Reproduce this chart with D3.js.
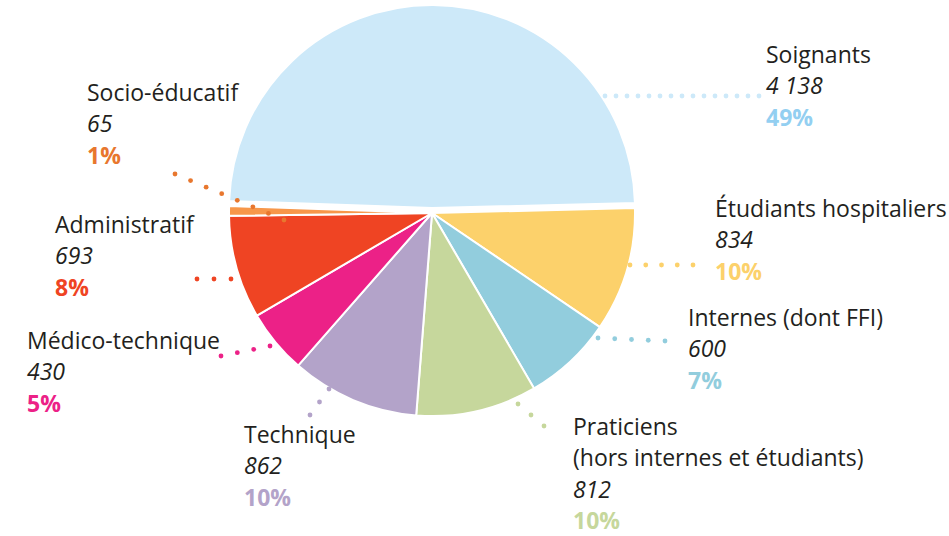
<!DOCTYPE html>
<html>
<head>
<meta charset="utf-8">
<script src="https://cdn.jsdelivr.net/npm/d3@7"></script>
<style>
  body { margin: 0; background: #fff; }
  #chart text { font-family: "Open Sans", sans-serif; font-size: 23px; fill: #231f20; }
  #chart .val { font-style: italic; }
  #chart .pct { font-weight: bold; }
</style>
</head>
<body>
<div id="chart"></div>
<script>
// categories, clockwise from the top-left
const categories = ['Soignants', 'Étudiants hospitaliers', 'Internes', 'Praticiens',
    'Technique', 'Médico-technique', 'Administratif', 'Socio-éducatif'];
const subtitles = ['', '', '', '(hors internes et étudiants)', '', '', '', ''];
const nameSuffix = ['', '', ' (dont FFI)', '', '', '', '', ''];
const values = [4138, 834, 600, 812, 862, 430, 693, 65];
const sliceColors = ['#cde9f9', '#fcd16b', '#92cddd', '#c6d79c', '#b3a3c9', '#ec2187', '#ef4423', '#f7974a'];
const accentColors = ['#93cff1', '#fcd16b', '#92cddd', '#c6d79c', '#b3a3c9', '#ec2187', '#ef4423', '#e8772e'];

// label layout: text anchor and leader dots (x1, y1, x2, y2, count)
const labelPos = [
    {x: 766, y: 63, lead: [605, 96, 759, 96, 15]},
    {x: 715, y: 217, lead: [630, 265, 693, 265, 5]},
    {x: 688, y: 326, lead: [598, 338, 665, 341, 5]},
    {x: 573, y: 435, lead: [518, 404, 544, 426, 3]},
    {x: 244, y: 443, lead: [329, 389, 310, 415, 3]},
    {x: 27, y: 349, lead: [270, 346, 221, 356, 4]},
    {x: 55, y: 233, lead: [231, 279, 197, 279, 3]},
    {x: 87, y: 101, lead: [284, 220, 175, 174, 8]}
];

const width = 949, height = 536;
const cx = 432, cy = 213, radius = 203;
const lineGap = 31.4;

const svg = d3.select('#chart').append('svg')
    .attr('width', width)
    .attr('height', height);

const total = d3.sum(values);
const data = categories.map((c, i) => ({name: c, value: values[i], i: i}));

// the first slice ends just above 3 o'clock
const firstEnd = 88.6 * Math.PI / 180;
const start = firstEnd - values[0] / total * 2 * Math.PI;

const pie = d3.pie()
    .sort(null)
    .value(d => d.value)
    .startAngle(start)
    .endAngle(start + 2 * Math.PI);

const arc = d3.arc()
    .innerRadius(0)
    .outerRadius(radius);

const g = svg.append('g')
    .attr('transform', `translate(${cx},${cy})`);

g.selectAll('path')
    .data(pie(data))
    .join('path')
    .attr('d', arc)
    .attr('fill', d => sliceColors[d.data.i])
    .attr('stroke', '#fff')
    .attr('stroke-width', 2)
    .attr('stroke-linejoin', 'round')
    .attr('transform', d => {
        if (d.data.i !== 0) return null;
        // pull the big slice out a little
        let mid = (d.startAngle + d.endAngle) / 2;
        return `translate(${5 * Math.sin(mid)},${-5 * Math.cos(mid)})`;
    });

// leader dots
labelPos.forEach((p, i) => {
    let [x1, y1, x2, y2, n] = p.lead;
    let pts = d3.range(n).map(k => [x1 + (x2 - x1) * k / (n - 1), y1 + (y2 - y1) * k / (n - 1)]);
    svg.append('g')
        .selectAll('circle')
        .data(pts)
        .join('circle')
        .attr('cx', d => d[0])
        .attr('cy', d => d[1])
        .attr('r', 2.4)
        .attr('fill', i === 0 ? sliceColors[0] : accentColors[i]);
});

// labels
const fmt = d3.formatLocale({decimal: ',', thousands: '\u00a0', grouping: [3], currency: ['', '']}).format(',d');

data.forEach((d, i) => {
    let p = labelPos[i];
    let lbl = svg.append('g').attr('transform', `translate(${p.x},${p.y})`);
    let row = 0;
    lbl.append('text').attr('x', 0).attr('y', row * lineGap).text(d.name + nameSuffix[i]);
    row++;
    if (subtitles[i]) {
        lbl.append('text').attr('x', 0).attr('y', row * lineGap).text(subtitles[i]);
        row++;
    }
    lbl.append('text').attr('class', 'val').attr('x', 0).attr('y', row * lineGap).text(fmt(d.value));
    row++;
    lbl.append('text').attr('class', 'pct').attr('x', 0).attr('y', row * lineGap)
        .style('fill', accentColors[i])
        .text(Math.round(d.value / total * 100) + '%');
});
</script>
</body>
</html>
